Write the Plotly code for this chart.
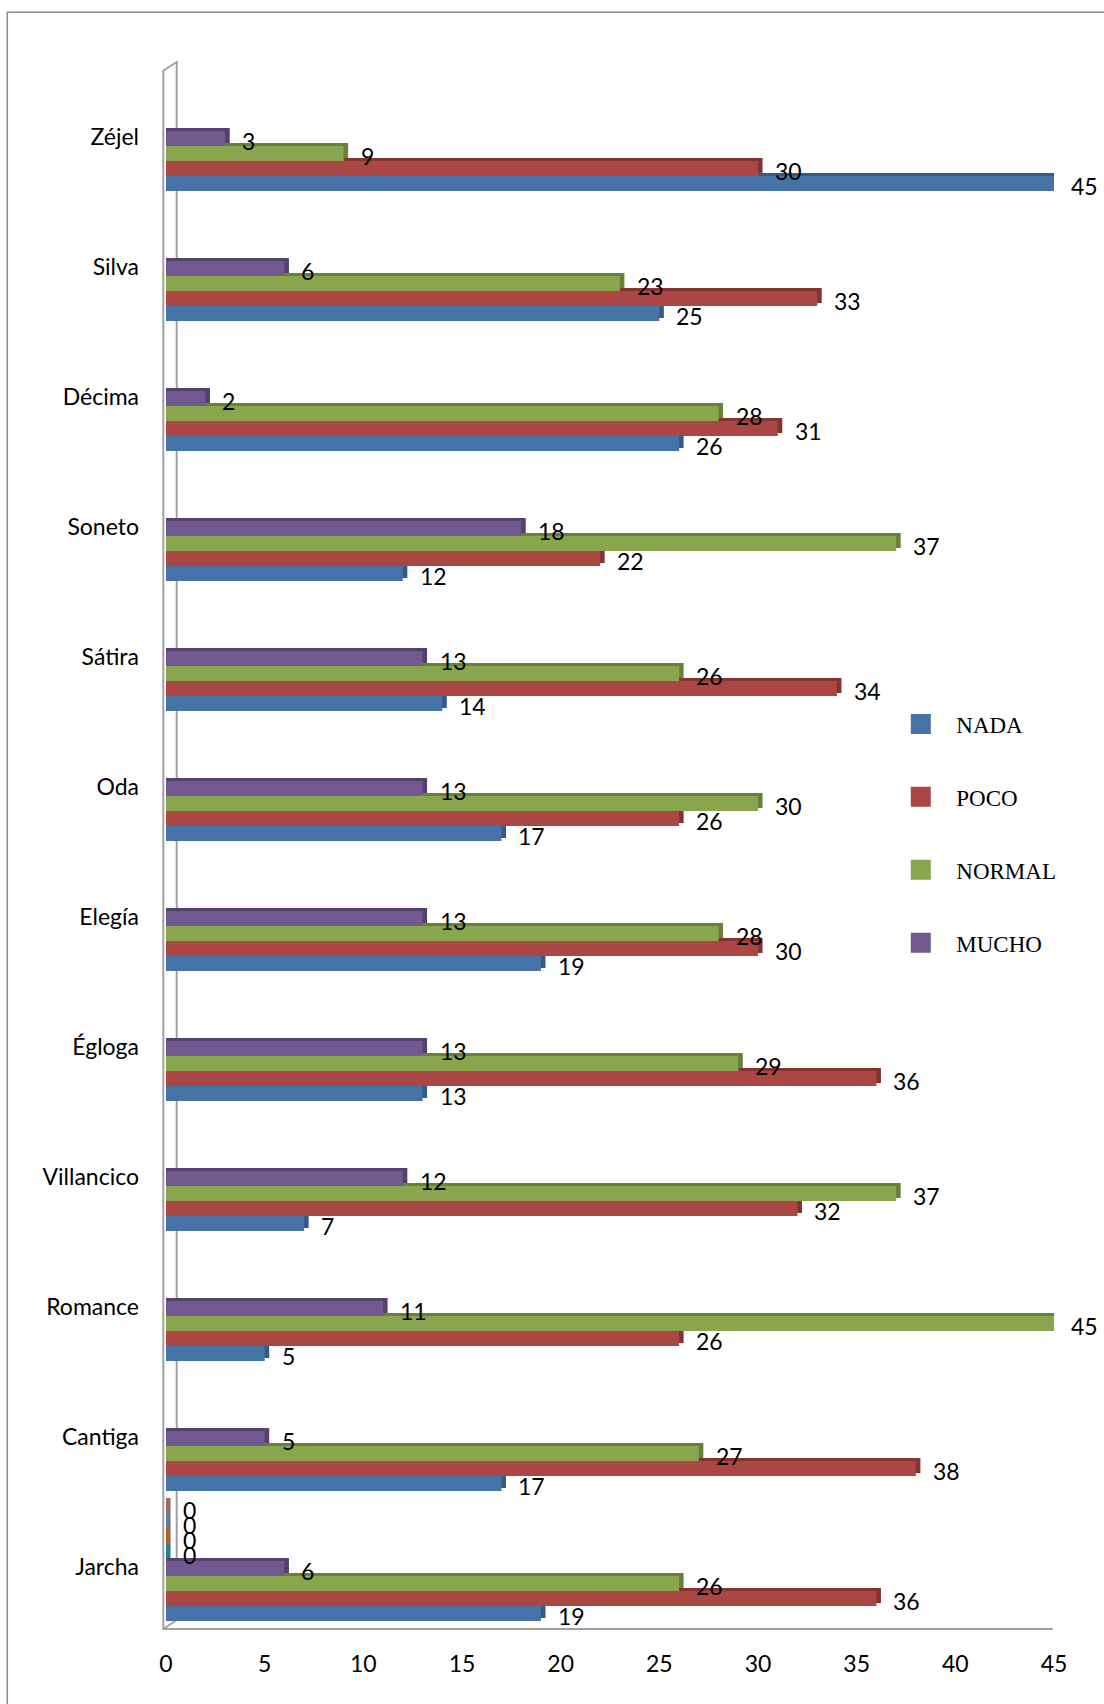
import plotly.graph_objects as go

# Categories listed bottom-to-top (plotly category axes grow upward)
categories = ["Jarcha", "Cantiga", "Romance", "Villancico", "Égloga", "Elegía",
              "Oda", "Sátira", "Soneto", "Décima", "Silva", "Zéjel"]

nada   = [19, 17, 5, 7, 13, 19, 17, 14, 12, 26, 25, 45]
poco   = [36, 38, 26, 32, 36, 30, 26, 34, 22, 31, 33, 30]
normal = [26, 27, 45, 37, 29, 28, 30, 26, 37, 28, 23, 9]
mucho  = [6, 5, 11, 12, 13, 13, 13, 13, 18, 2, 6, 3]

# Four further series that only hold a value (zero) for Jarcha
serie5 = [0] + [None] * 11
serie6 = [0] + [None] * 11
serie7 = [0] + [None] * 11
serie8 = [0] + [None] * 11

x_ticks = [0, 5, 10, 15, 20, 25, 30, 35, 40, 45]

# name, values, face colour, side/top colour, shown in legend
series = [
    ("NADA",    nada,   "#4572A7", "#36598A", True),
    ("POCO",    poco,   "#AA4643", "#84332F", True),
    ("NORMAL",  normal, "#89A54E", "#67803A", True),
    ("MUCHO",   mucho,  "#71588F", "#55416E", True),
    ("Serie 5", serie5, "#4BACC6", "#2E7D8C", False),
    ("Serie 6", serie6, "#F79646", "#A9652B", False),
    ("Serie 7", serie7, "#7F93B5", "#64779A", False),
    ("Serie 8", serie8, "#B08080", "#9A6A6A", False),
]

W, H = 1104, 1704
L, R, T, B = 166, 50, 66, 78
PW, PH = W - L - R, H - T - B

SLOT = 0.1155          # bar thickness in category units
N_SLOTS = len(series)
DEPTH = 0.23           # 3-D depth of each bar, in x units
LIFT = 0.023           # vertical lift of the top face, in category units

TEXT_FONT = dict(family="Lato, Carlito, sans-serif", size=23, color="#000000")


def px_x(x):
    return (x - L) / PW


def px_y(y):
    return 1 - (y - T) / PH


fig = go.Figure()
annotations = []

for i, (name, vals, face, side, in_legend) in enumerate(series):
    offset = (i - N_SLOTS / 2) * SLOT
    depth_vals = [None if v is None else v + DEPTH for v in vals]
    # darker block behind the face gives the top and right faces of the 3-D bar
    fig.add_trace(go.Bar(
        y=categories, x=depth_vals, orientation="h",
        offset=offset + LIFT, width=SLOT,
        marker=dict(color=side, line=dict(width=0)),
        showlegend=False, hoverinfo="skip",
    ))
    fig.add_trace(go.Bar(
        y=categories, x=vals, orientation="h", name=name,
        offset=offset, width=SLOT,
        marker=dict(color=face, line=dict(width=0)),
        showlegend=False,
    ))
    for k, v in enumerate(vals):
        if v is None:
            continue
        annotations.append(dict(
            x=v, y=k + offset + SLOT / 2, xref="x", yref="y",
            text=str(v), showarrow=False, xanchor="left", yanchor="middle",
            xshift=15, yshift=-2, font=TEXT_FONT,
        ))

# Legend entries
for name, vals, face, side, in_legend in series:
    if not in_legend:
        continue
    fig.add_trace(go.Scatter(
        x=[None], y=[None], mode="markers", name=name, legendgroup=name,
        marker=dict(symbol="square", size=20, color=face,
                    line=dict(width=4, color=face)),
        hoverinfo="skip",
    ))

# Chart frame: outer border and the 3-D wall/floor edges
shapes = [
    dict(type="rect", xref="paper", yref="paper",
         x0=px_x(7.3), y0=px_y(H + 40), x1=px_x(W + 40), y1=px_y(12.3),
         line=dict(color="#8C8C8C", width=1.5), fillcolor="rgba(0,0,0,0)",
         layer="below"),
    dict(type="path", xref="paper", yref="paper", layer="below",
         path=(f"M {px_x(1052.7)},{px_y(1629)} L {px_x(163.3)},{px_y(1629)} "
               f"L {px_x(163.3)},{px_y(70.7)} L {px_x(176.7)},{px_y(62)} "
               f"L {px_x(176.7)},{px_y(1620)} L {px_x(163.3)},{px_y(1629)}"),
         line=dict(color="#A0A0A0", width=2)),
]

fig.update_layout(
    width=W, height=H,
    margin=dict(l=L, r=R, t=T, b=B, pad=0),
    paper_bgcolor="#FFFFFF", plot_bgcolor="#FFFFFF",
    barmode="overlay",
    showlegend=True,
    legend=dict(
        x=0.81, y=0.592, xanchor="left", yanchor="top",
        font=dict(family="Liberation Serif, Times New Roman, serif",
                  size=23, color="#000000"),
        itemwidth=61, tracegroupgap=40, bgcolor="rgba(0,0,0,0)",
        traceorder="grouped",
    ),
    xaxis=dict(
        range=[0, 45], tickvals=x_ticks, ticktext=[str(t) for t in x_ticks],
        showgrid=False, zeroline=False, showline=False, ticks="",
        ticklabelstandoff=22, tickfont=TEXT_FONT, fixedrange=True,
    ),
    yaxis=dict(
        type="category", categoryorder="array", categoryarray=categories,
        range=[-0.5, 11.5], showgrid=False, zeroline=False, showline=False,
        ticks="", ticklabelstandoff=26, ticklabelshift=6,
        tickfont=TEXT_FONT, fixedrange=True,
    ),
    annotations=annotations,
    shapes=shapes,
)

fig.write_html("out.html")
